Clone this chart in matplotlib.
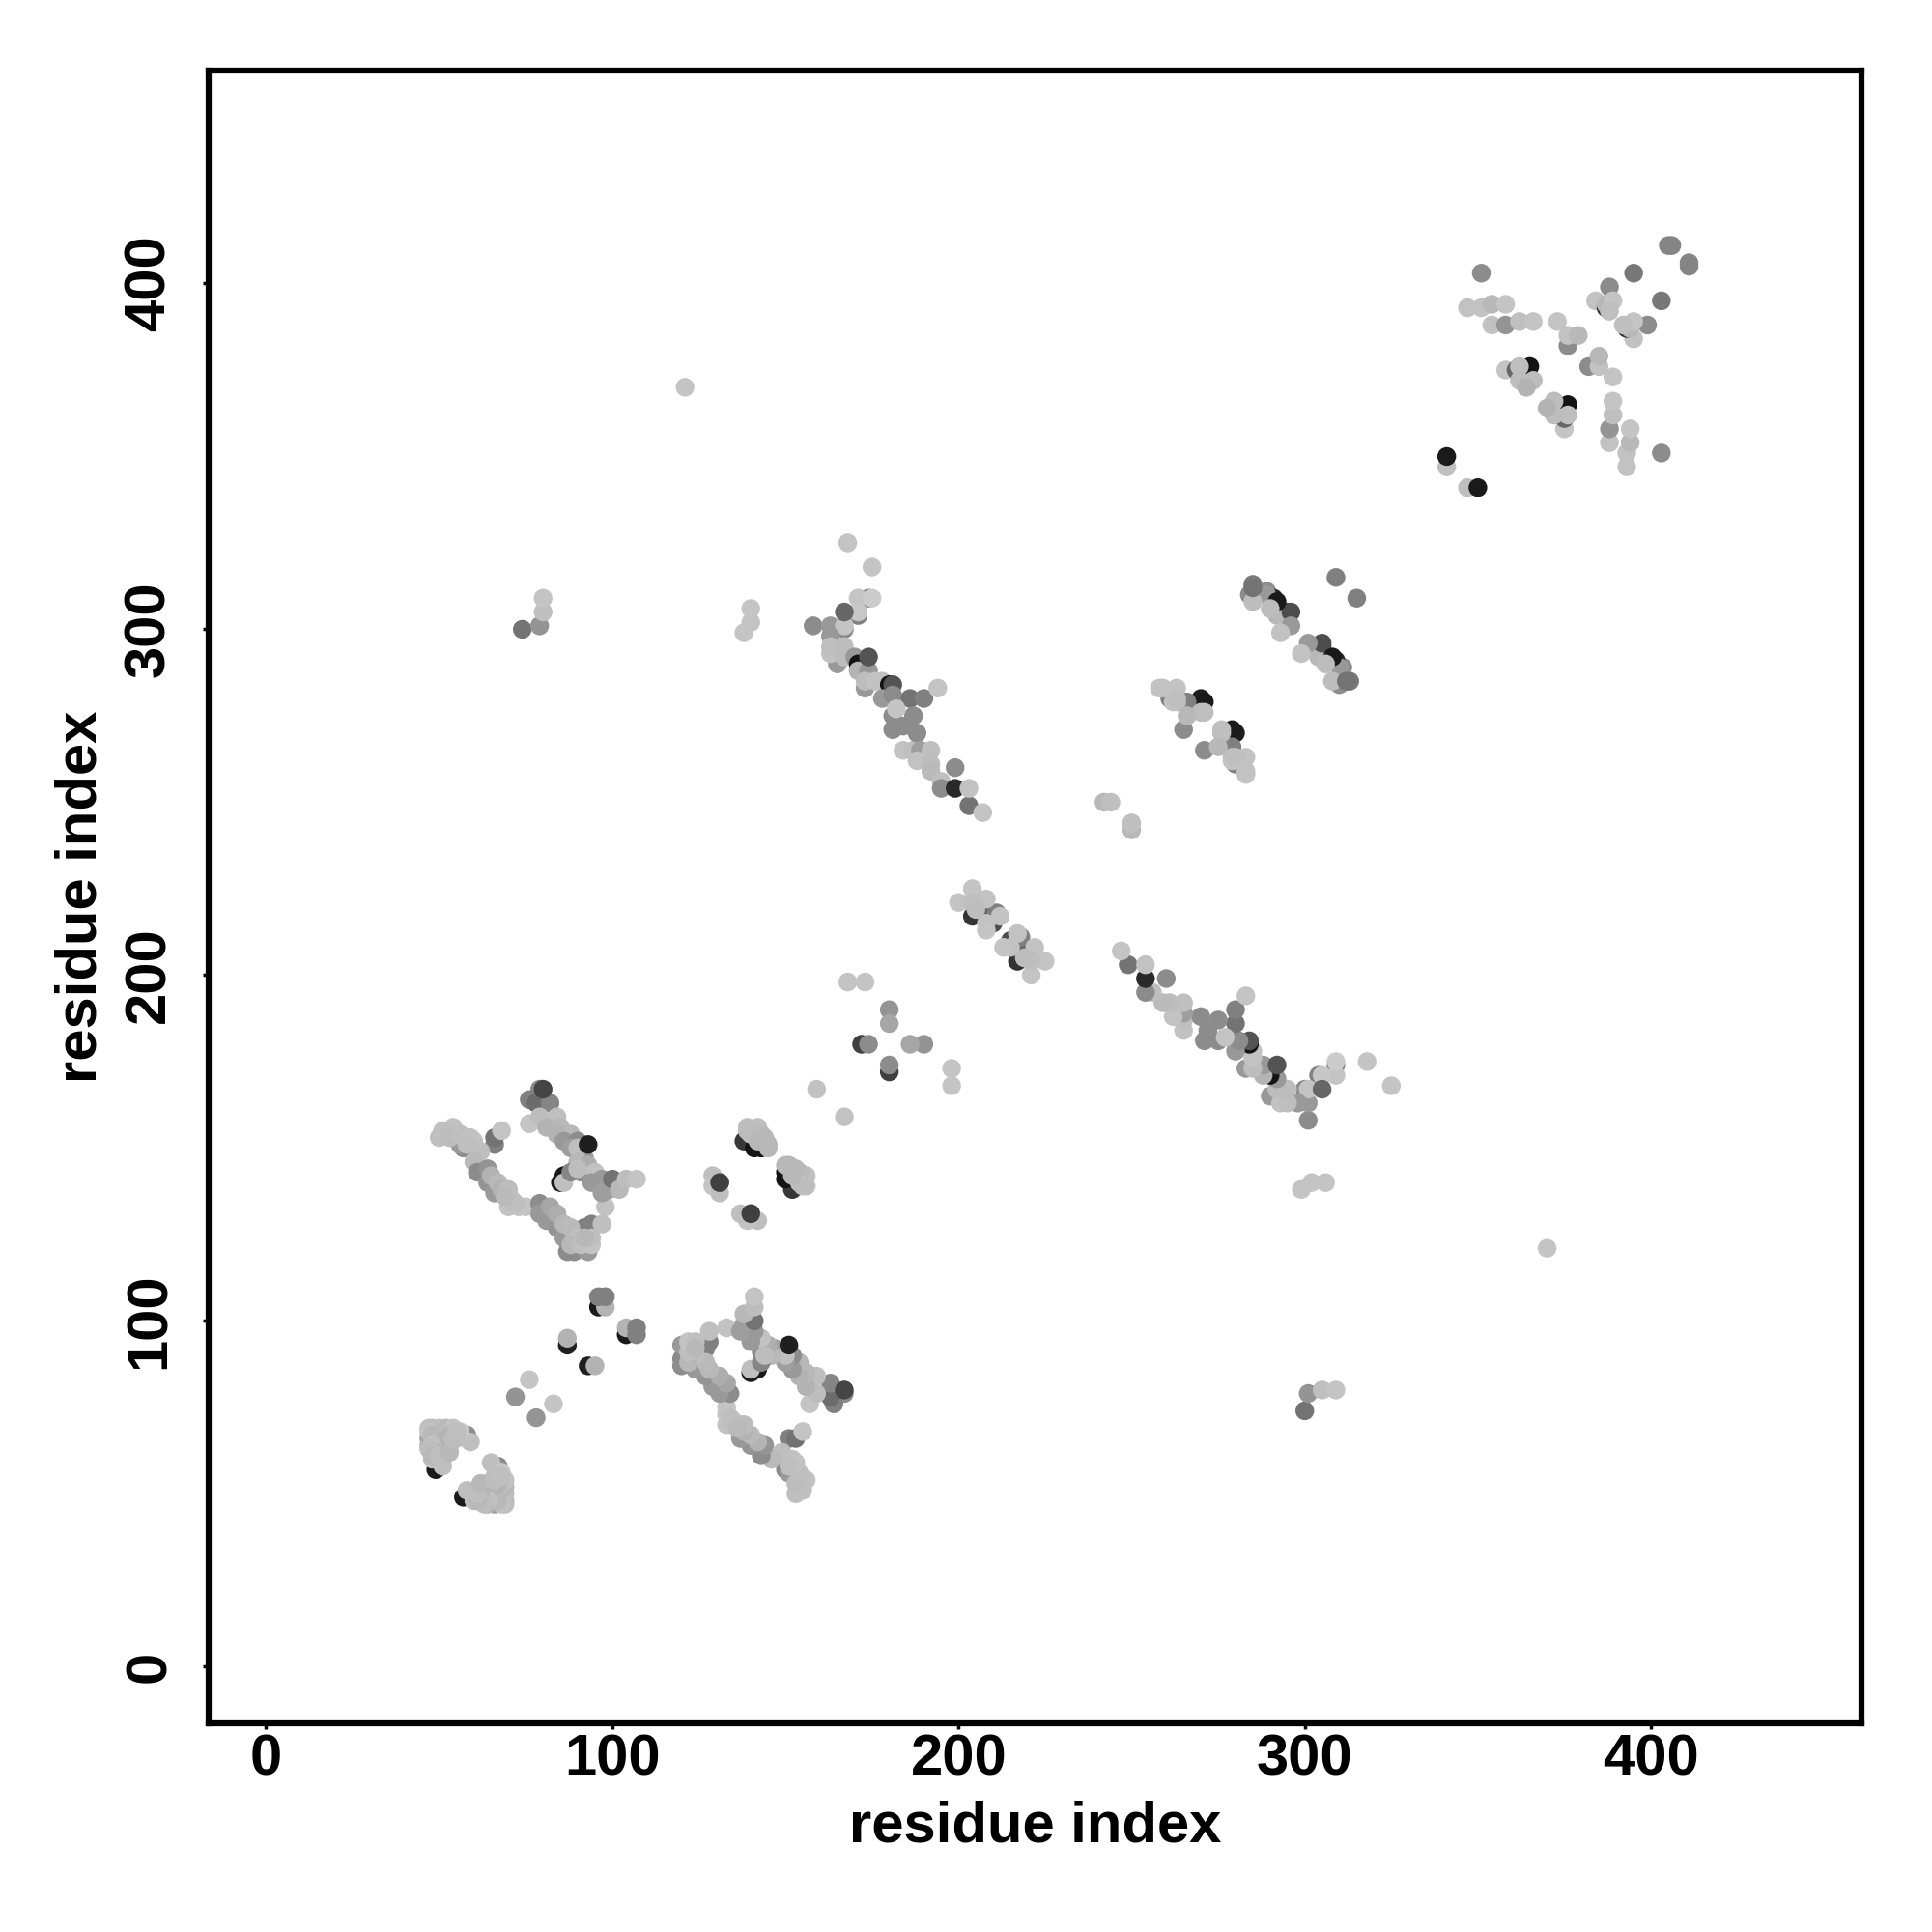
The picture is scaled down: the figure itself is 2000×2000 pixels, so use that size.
import matplotlib
matplotlib.use('Agg')
import matplotlib.pyplot as plt

plt.rcParams['font.family'] = ['Liberation Sans', 'DejaVu Sans']
plt.rcParams['font.weight'] = 'bold'

# contacts (residue i, residue j, grey level), only i < j, the map is symmetric
# listed in drawing order
strand_47_70 = [
    (49, 60, .55), (49, 57, .1), (51, 58, .75), (58, 67, .55), (59, 65, .75),
    (47, 66, .62), (47, 64, .68), (48, 62, .6), (48, 69, .72), (50, 69, .75),
    (52, 69, .72), (54, 69, .76), (56, 68, .78), (49, 67, .7), (51, 67, .74),
    (53, 67, .72), (49, 65, .75), (51, 65, .7), (53, 64, .75), (55, 66, .75),
    (50, 63, .7), (52, 63, .72), (47, 69, .74), (47, 68, .76), (48, 67, .72),
    (50, 65, .74), (52, 66, .7), (48, 64, .76), (49, 62, .7), (51, 61, .74),
    (47, 63, .74), (48, 60, .75), (48, 61, .72), (50, 61, .75), (53, 62, .72),
    (54, 66, .74), (55, 68, .75),
]
strand_72_107 = [
    (72, 78, .58), (76, 83, .77), (87, 93, .12), (87, 95, .7),
    (96, 104, .1), (98, 104, .7), (96, 107, .5), (98, 107, .5),
]
# long sheet contacts, lower band
band_50_72 = [
    (57, 150, .55), (56, 151, .6), (66, 151, .5), (66, 153, .45), (68, 155, .77),
    (50, 153, .75), (52, 154, .75), (54, 156, .76), (51, 155, .75), (53, 153, .74),
    (56, 154, .75), (59, 153, .76), (60, 152, .76), (58, 151, .75), (62, 149, .75),
    (60, 146, .73), (61, 143, .55), (64, 144, .58), (64, 140, .58), (66, 137, .6),
    (65, 142, .7), (67, 140, .73), (68, 138, .7), (70, 138, .74), (71, 135, .75),
    (70, 133, .76), (73, 133, .77), (75, 133, .77), (72, 134, .75), (69, 136, .73),
]
band_78_98 = [
    (79, 134, .55), (79, 131, .6), (81, 129, .6), (84, 127, .58), (86, 124, .6),
    (87, 120, .55), (89, 120, .55), (93, 120, .6), (92, 127, .5), (94, 128, .5),
    (82, 133, .65), (84, 131, .68), (86, 128, .72), (88, 127, .73), (90, 124, .75),
    (88, 122, .72), (91, 122, .75), (94, 122, .77), (94, 124, .75), (92, 124, .72),
    (97, 128, .75), (98, 133, .76),
]
# upper band
band_75_107 = [
    (79, 167, .55), (76, 164, .5), (78, 163, .42), (82, 163, .52), (80, 167, .27),
    (76, 157, .77), (79, 159, .74), (84, 159, .75), (81, 156, .7), (85, 156, .72),
    (84, 154, .7), (88, 154, .72), (86, 152, .6), (90, 152, .55), (88, 150, .62),
    (92, 147, .62), (91, 143, .55), (90, 150, .75), (90, 146, .72), (93, 145, .68),
    (93, 151, .12), (95, 143, .76), (94, 140, .6), (97, 141, .6), (97, 137, .62),
    (99, 138, .62), (100, 141, .45), (102, 138, .72), (104, 141, .74), (107, 141, .77),
    (85, 140, .1), (86, 142, .1), (86, 140, .75), (88, 143, .52), (90, 144, .74),
]
near_128_156 = [
    (131, 140, .25), (129, 142, .75), (129, 139, .77), (131, 137, .75), (131, 140, .25),
    (138, 152, .22), (141, 150, .08), (143, 150, .08), (139, 156, .75), (142, 156, .75),
    (143, 154, .73), (145, 151, .7), (140, 154, .76), (139, 155, .74), (142, 152, .72),
    (145, 150, .72), (144, 153, .72),
    (159, 167, .76),
]
near_168_198 = [
    (168, 198, .77), (173, 198, .77), (172, 180, .25), (174, 180, .55),
    (180, 190, .58), (180, 186, .65),
]
near_199_225 = [
    (204, 217, .2), (208, 217, .4), (211, 218, .5), (210, 215, .3), (200, 221, .77),
    (204, 225, .77), (208, 222, .76), (204, 221, .75), (208, 215, .76), (208, 213, .77),
    (212, 217, .76), (205, 219, .74),
]
near_242_250 = [(242, 250, .72), (244, 250, .75)]
# antiparallel strand with residues 248-325
long_168_207 = [
    (168, 325, .77), (175, 318, .77), (174, 309, .5), (171, 309, .77), (175, 309, .8),
    (171, 304, .5), (171, 305, .78), (158, 301, .55), (163, 301, .6), (167, 300, .55),
    (167, 301, .77), (167, 305, .4), (163, 298, .6), (165, 290, .6), (163, 293, .76),
    (163, 295, .75), (167, 295, .74), (167, 292, .74), (170, 292, .6), (171, 290, .08),
    (171, 288, .7), (174, 288, .6), (174, 292, .33), (173, 283, .6), (173, 285, .74),
    (176, 285, .76), (178, 285, .76), (180, 284, .08), (181, 284, .33), (178, 280, .6),
    (181, 281, .55), (186, 280, .45), (190, 280, .5), (194, 283, .77), (181, 275, .55),
    (187, 275, .55), (182, 277, .77), (181, 271, .55), (184, 272, .55), (184, 265, .76),
    (187, 265, .75), (188, 270, .55), (189, 265, .62), (192, 265, .75), (188, 262, .76),
    (192, 261, .74), (192, 259, .73), (199, 260, .55), (195, 256, .75), (195, 254, .55),
    (199, 254, .16), (203, 249, .45), (203, 254, .76), (207, 247, .77),
]
long_258_283 = [
    (261, 280, .5), (265, 279, .45), (270, 280, .12), (265, 271, .55), (271, 279, .1),
    (266, 279, .5), (258, 283, .77), (263, 283, .76), (263, 279, .75), (270, 276, .74),
    (266, 275, .72), (271, 276, .75), (262, 279, .76), (263, 280, .75), (259, 283, .76),
]
long_284_316 = [
    (285, 313, .48), (284, 310, .55), (289, 311, .55), (291, 309, .15), (295, 305, .3),
    (289, 310, .6), (292, 304, .72), (296, 305, .3), (296, 301, .6), (292, 308, .1),
    (293, 299, .76), (285, 308, .74), (290, 306, .74), (309, 315, .5),
    (285, 312, .45),
]
far_contacts = [
    (121, 370, .77), (74, 300, .45), (79, 301, .58), (80, 305, .75), (80, 309, .77),
    (138, 299, .77), (140, 302, .77), (140, 306, .77),
    (341, 347, .75), (341, 350, .1),
]
ctd_347_411 = [
    (351, 403, .55), (347, 393, .76), (351, 393, .76), (354, 394, .72), (358, 394, .77),
    (354, 388, .76), (358, 388, .58), (362, 389, .75), (366, 389, .77), (373, 389, .77),
    (376, 382, .55), (376, 385, .76), (379, 385, .72), (358, 375, .77), (361, 375, .4),
    (364, 375, .25), (365, 376, .08), (362, 376, .75), (366, 372, .74), (362, 372, .74), (364, 370, .7),
    (388, 399, .55), (395, 403, .47), (384, 395, .76), (387, 393, .2), (387, 394, .72),
    (389, 395, .77), (388, 392, .75), (405, 411, .52), (406, 411, .52),
]

all_contacts = (strand_47_70 + strand_72_107 + band_50_72 + band_78_98 + band_75_107
                + near_128_156 + near_168_198 + near_199_225 + near_242_250 + long_168_207
                + long_258_283 + long_284_316 + far_contacts + ctd_347_411)
i_vals = [c[0] for c in all_contacts]
j_vals = [c[1] for c in all_contacts]
greys = [str(c[2]) for c in all_contacts]

ticks = [0, 100, 200, 300, 400]

fig = plt.figure(figsize=(20, 20), dpi=100)
ax = fig.add_axes([216 / 2000, 216 / 2000, 1711 / 2000, 1711 / 2000])

# the map shows each contact twice, above and below the diagonal
ax.scatter(i_vals + j_vals, j_vals + i_vals, s=195, c=greys + greys, linewidths=0, zorder=3)

ax.set_xlim(-16.6, 460.8)
ax.set_ylim(-16.4, 461.6)
ax.set_xticks(ticks)
ax.set_yticks(ticks)
for spine in ax.spines.values():
    spine.set_linewidth(4.5)

ax.tick_params(axis='x', length=4.5, width=2.5, labelsize=43, pad=3)
ax.tick_params(axis='y', length=4.5, width=2.5, labelsize=43, pad=19.5)
for lab in ax.get_yticklabels():
    lab.set_rotation(90)
    lab.set_va('center')

ax.set_xlabel('residue index', fontsize=43, fontweight='bold', labelpad=10)
ax.set_ylabel('residue index', fontsize=43, fontweight='bold', labelpad=11.5)

fig.savefig('out.png', dpi=100, facecolor='white')
